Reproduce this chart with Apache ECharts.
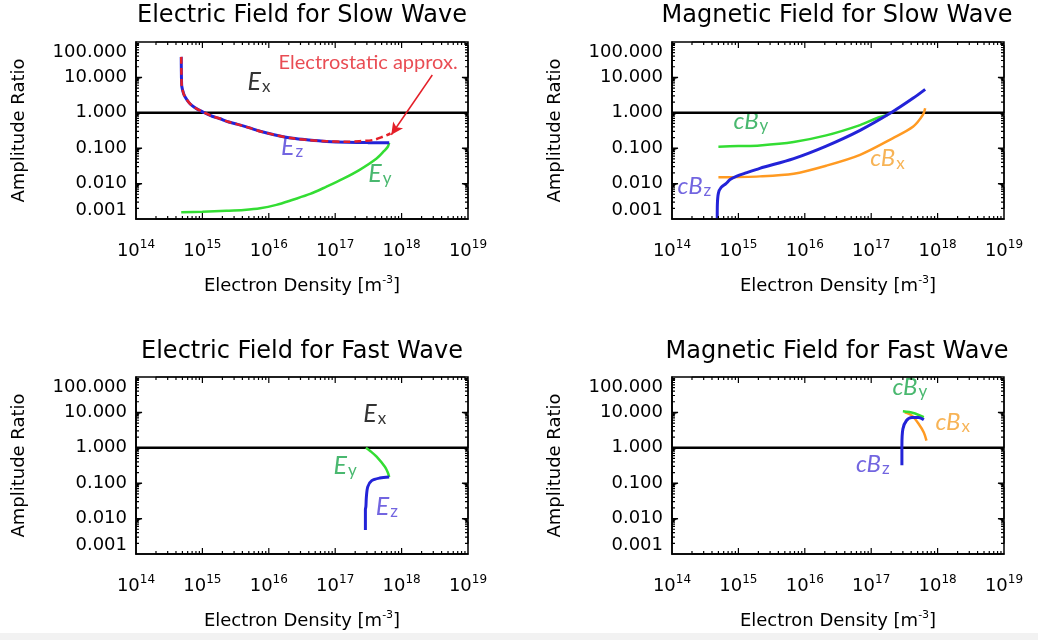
<!DOCTYPE html>
<html>
<head>
<meta charset="utf-8">
<script src="https://cdn.jsdelivr.net/npm/echarts@6/dist/echarts.min.js"></script>
<style>
  html, body { margin: 0; padding: 0; background: #fff; }
  #chart { width: 1038px; height: 640px; }
</style>
</head>
<body>
<div id="chart"></div>
<script>
// x: electron density [m^-3], y: amplitude ratio (both log)
const xRange = [1e14, 1e19];
const yRange = [0.001, 100];

const exLine = [[1e14, 1], [1e19, 1]];

// slow wave - electric field
const slowEz = [[4.8e14, 38], [4.82e14, 15], [4.85e14, 8], [4.9e14, 5.5], [5.2e14, 3.5], [5.5e14, 2.8],
  [6.2e14, 2.0], [7e14, 1.6], [8.5e14, 1.25], [1.02e15, 1.05], [1.4e15, 0.8], [1.8e15, 0.69],
  [2.5e15, 0.55], [3.3e15, 0.48], [5e15, 0.38], [7.4e15, 0.3], [1.2e16, 0.24], [2.3e16, 0.19],
  [4e16, 0.17], [7.4e16, 0.155], [1.5e17, 0.147], [3e17, 0.145], [3.2e17, 0.142], [6.5e17, 0.142]];
const slowEzApprox = [[4.8e14, 38], [4.82e14, 15], [4.85e14, 8], [4.9e14, 5.5], [5.2e14, 3.5], [5.5e14, 2.8],
  [6.2e14, 2.0], [7e14, 1.6], [8.5e14, 1.25], [1.02e15, 1.05], [1.4e15, 0.8], [1.8e15, 0.69],
  [2.5e15, 0.55], [3.3e15, 0.48], [5e15, 0.38], [7.4e15, 0.3], [1.2e16, 0.24], [2.3e16, 0.19],
  [4e16, 0.17], [7.4e16, 0.158], [1.5e17, 0.152], [2.3e17, 0.158], [3.7e17, 0.17], [5.2e17, 0.21], [6.8e17, 0.26]];
const slowEy = [[4.8e14, 0.00155], [1e15, 0.0016], [2.3e15, 0.0017], [4.2e15, 0.0018], [7.4e15, 0.002],
  [1.3e16, 0.0025], [2.3e16, 0.0035], [4.2e16, 0.0051], [7.4e16, 0.0082], [1.3e17, 0.0135],
  [2.3e17, 0.024], [4.2e17, 0.051], [5.5e17, 0.085], [6.2e17, 0.11], [6.5e17, 0.142]];

// slow wave - magnetic field
const slowCBy = [[5e14, 0.11], [1e15, 0.115], [2.1e15, 0.12], [6.8e15, 0.15], [2.1e16, 0.23],
  [6.8e16, 0.45], [1.2e17, 0.7], [1.8e17, 0.88]];
const slowCBz = [[4.8e14, 0.00105], [4.82e14, 0.0025], [5e14, 0.0054], [5.5e14, 0.0078], [6.5e14, 0.01],
  [7.5e14, 0.013], [9.3e14, 0.016], [1.3e15, 0.02], [2.1e15, 0.027], [6.8e15, 0.051], [2.1e16, 0.115],
  [6.8e16, 0.32], [2.1e17, 1.07], [4.3e17, 2.6], [6.5e17, 4.6]];
const slowCBx = [[5e14, 0.015], [2.1e15, 0.016], [6.8e15, 0.019], [2.1e16, 0.032], [6.8e16, 0.065],
  [2.1e17, 0.19], [4.3e17, 0.41], [6e17, 0.87], [6.5e17, 1.35]];

// fast wave - electric field
const fastEy = [[2.9e17, 1.0], [3.4e17, 0.8], [4.2e17, 0.56], [5.6e17, 0.29], [6.2e17, 0.2], [6.5e17, 0.15]];
const fastEz = [[6.5e17, 0.15], [4.7e17, 0.14], [3.55e17, 0.118], [3.1e17, 0.08], [2.95e17, 0.042],
  [2.9e17, 0.022], [2.85e17, 0.018], [2.85e17, 0.0048]];

// fast wave - magnetic field
const fastCBz = [[2.9e17, 0.32], [2.9e17, 1.15], [3.0e17, 3.4], [3.4e17, 5.9], [4.1e17, 7.2], [5.2e17, 7.2], [6.2e17, 6.2]];
const fastCBy = [[3e17, 10.7], [4.3e17, 9.6], [6.2e17, 7.3]];
const fastCBx = [[3.2e17, 10], [4.1e17, 8.1], [5.2e17, 4.7], [6.2e17, 2.7], [6.8e17, 1.6]];

// log tick marks: [value, isMajor] for every 1..9 step inside the range
function logTicks(e0, e1) {
  const out = [];
  for (let e = e0; e < e1; e++) {
    for (let m = 1; m <= 9; m++) {
      if (m === 1 && e === e0) continue;
      out.push([+(m * Math.pow(10, e)).toPrecision(3), m === 1]);
    }
  }
  return out;
}
const xTickMarks = logTicks(14, 19);
const yTickMarks = logTicks(-3, 2);

const FONT = 'DejaVu Sans';
const NOTE_FONT = 'Lato';
const BLUE = '#2323d8', GREEN = '#33dd33', ORANGE = '#ff9a22', RED = '#e41f28';
const BLUE_T = '#4f3fd8', GREEN_T = '#1ba64b', ORANGE_T = '#f5a02c';

const grids = [
  {left: 136, top: 42, width: 332, height: 177},
  {left: 672, top: 42, width: 332, height: 177},
  {left: 136, top: 377, width: 332, height: 177},
  {left: 672, top: 377, width: 332, height: 177}
];
const titles = ['Electric Field for Slow Wave', 'Magnetic Field for Slow Wave',
  'Electric Field for Fast Wave', 'Magnetic Field for Fast Wave'];

const xAxes = [], yAxes = [];
grids.forEach(function (g, gi) {
  xAxes.push({
    gridIndex: gi, type: 'log', min: xRange[0], max: xRange[1], position: 'bottom',
    splitLine: {show: false}, axisTick: {show: false},
    axisLine: {show: true, onZero: false, lineStyle: {color: '#000', width: 1.5}},
    axisLabel: {
      margin: 20, color: '#000', fontFamily: FONT, fontSize: 18,
      formatter: function (v) { return '{b|10}{s|' + Math.round(Math.log10(v)) + '}'; },
      rich: {b: {fontSize: 18, fontFamily: FONT}, s: {fontSize: 12, fontFamily: FONT, padding: [0, 0, 12, 0]}}
    },
    name: 'Electron Density [m{s|-3}]', nameLocation: 'middle', nameGap: 56,
    nameTextStyle: {color: '#000', fontFamily: FONT, fontSize: 18,
      rich: {s: {fontSize: 11, fontFamily: FONT, padding: [0, 0, 12, 0]}}}
  });
  yAxes.push({
    gridIndex: gi, type: 'log', min: yRange[0], max: yRange[1], position: 'left',
    splitLine: {show: false}, axisTick: {show: false},
    axisLine: {show: true, onZero: false, lineStyle: {color: '#000', width: 1.5}},
    axisLabel: {
      margin: 9, color: '#000', fontFamily: FONT, fontSize: 18,
      formatter: function (v) {
        const s = v.toFixed(3);
        if (v > 50) return '{top|' + s + '}';
        if (v < 0.005) return '{bot|' + s + '}';
        return s;
      },
      rich: {top: {fontSize: 18, fontFamily: FONT, padding: [20, 0, 0, 0]},
        bot: {fontSize: 18, fontFamily: FONT, padding: [0, 0, 18, 0]}}
    },
    name: 'Amplitude Ratio', nameLocation: 'middle', nameGap: 108,
    nameTextStyle: {color: '#000', fontFamily: FONT, fontSize: 18}
  });
});

function line(gi, data, color, width, extra) {
  return Object.assign({
    type: 'line', xAxisIndex: gi, yAxisIndex: gi, data: data,
    symbol: 'none', silent: true, smooth: data.length > 2 ? 0.3 : false,
    lineStyle: {color: color, width: width || 2.5}
  }, extra || {});
}

// tick marks on one side of a frame, drawn as a comb line that runs along the
// frame edge and steps in and out at each tick value
function tickComb(gi, side) {
  const g = grids[gi];
  const data = [];
  if (side === 'bottom' || side === 'top') {
    const pxPerDecade = g.height / 5;
    xTickMarks.forEach(function (t) {
      const f = Math.pow(10, (t[1] ? 6 : 3) / pxPerDecade);
      const base = side === 'bottom' ? yRange[0] : yRange[1];
      const tip = side === 'bottom' ? base * f : base / f;
      data.push([t[0], base], [t[0], tip], [t[0], base]);
    });
  } else {
    const pxPerDecade = g.width / 5;
    yTickMarks.forEach(function (t) {
      const f = Math.pow(10, (t[1] ? 6 : 3) / pxPerDecade);
      const base = side === 'left' ? xRange[0] : xRange[1];
      const tip = side === 'left' ? base * f : base / f;
      data.push([base, t[0]], [tip, t[0]], [base, t[0]]);
    });
  }
  return {
    type: 'line', xAxisIndex: gi, yAxisIndex: gi, data: data, symbol: 'none',
    silent: true, clip: false, smooth: false, z: 3,
    lineStyle: {color: '#000', width: 1.2, join: 'bevel'}
  };
}

const noteRich = {
  E: {fontFamily: NOTE_FONT, fontStyle: 'italic', fontSize: 25, padding: [0, 0, 9, 0]},
  C: {fontFamily: NOTE_FONT, fontStyle: 'italic', fontSize: 24, padding: [0, 0, 9, 0]},
  sub: {fontFamily: NOTE_FONT, fontSize: 17, padding: [0, 0, 0, 1]},
  note: {fontFamily: NOTE_FONT, fontSize: 20}
};
function notes(gi, items) {
  return {
    type: 'scatter', xAxisIndex: gi, yAxisIndex: gi, silent: true,
    symbolSize: 1, itemStyle: {color: 'rgba(0,0,0,0)'},
    label: {show: true, position: 'right', distance: 0, rich: noteRich,
      formatter: function (p) { return p.name; }},
    data: items.map(function (n) {
      return {name: n[2], value: [n[0], n[1]], label: {color: n[3]}};
    })
  };
}

const series = [
  // slow wave, electric
  line(0, exLine, '#000', 2.5),
  line(0, slowEy, GREEN),
  line(0, slowEz, BLUE, 3),
  line(0, slowEzApprox, RED, 2.5, {
    lineStyle: {color: RED, width: 2.5, type: [7, 4]},
    markLine: {
      silent: true, symbol: ['none', 'arrow'], symbolSize: [9, 12],
      lineStyle: {color: RED, width: 1.5, type: 'solid'}, label: {show: false},
      data: [[{coord: [2.9e18, 11.7]}, {coord: [7e17, 0.24]}]]
    }
  }),
  notes(0, [
    [4.7e15, 5.6, '{E|E}{sub|x}', '#000'],
    [1.5e16, 0.08, '{E|E}{sub|z}', BLUE_T],
    [3.1e17, 0.014, '{E|E}{sub|y}', GREEN_T],
    [1.38e16, 27, '{note|Electrostatic approx.}', RED]
  ]),
  // slow wave, magnetic
  line(1, exLine, '#000', 2.5),
  line(1, slowCBx, ORANGE),
  line(1, slowCBy, GREEN),
  line(1, slowCBz, BLUE, 3),
  notes(1, [
    [8.3e14, 0.44, '{C|cB}{sub|y}', GREEN_T],
    [9.5e16, 0.038, '{C|cB}{sub|x}', ORANGE_T],
    [1.19e14, 0.0064, '{C|cB}{sub|z}', BLUE_T]
  ]),
  // fast wave, electric
  line(2, exLine, '#000', 2.5),
  line(2, fastEy, GREEN),
  line(2, fastEz, BLUE, 3),
  notes(2, [
    [2.6e17, 6.8, '{E|E}{sub|x}', '#000'],
    [9.3e16, 0.23, '{E|E}{sub|y}', GREEN_T],
    [4e17, 0.016, '{E|E}{sub|z}', BLUE_T]
  ]),
  // fast wave, magnetic
  line(3, exLine, '#000', 2.5),
  line(3, fastCBx, ORANGE),
  line(3, fastCBy, GREEN),
  line(3, fastCBz, BLUE, 3),
  notes(3, [
    [2.05e17, 38, '{C|cB}{sub|y}', GREEN_T],
    [9.1e17, 4.0, '{C|cB}{sub|x}', ORANGE_T],
    [5.8e16, 0.26, '{C|cB}{sub|z}', BLUE_T]
  ])
];
grids.forEach(function (g, gi) {
  ['bottom', 'top', 'left', 'right'].forEach(function (side) {
    series.push(tickComb(gi, side));
  });
});

const titlePos = [[302, 16], [837, 16], [302, 352], [837, 352]];
const graphic = titles.map(function (t, i) {
  return {
    type: 'text', x: titlePos[i][0], y: titlePos[i][1], silent: true,
    style: {text: t, fill: '#000', font: '24px "DejaVu Sans"', align: 'center', verticalAlign: 'middle'}
  };
});
graphic.push({type: 'rect', silent: true, shape: {x: 0, y: 633, width: 1038, height: 7},
  style: {fill: '#f2f2f2'}, z: -1});

const chart = echarts.init(document.getElementById('chart'), null, {renderer: 'canvas'});
chart.setOption({
  animation: false,
  backgroundColor: '#fff',
  grid: grids.map(function (g) {
    return Object.assign({show: true, borderColor: '#000', borderWidth: 1.5,
      backgroundColor: 'transparent'}, g);
  }),
  xAxis: xAxes,
  yAxis: yAxes,
  series: series,
  graphic: graphic
});
</script>
</body>
</html>
